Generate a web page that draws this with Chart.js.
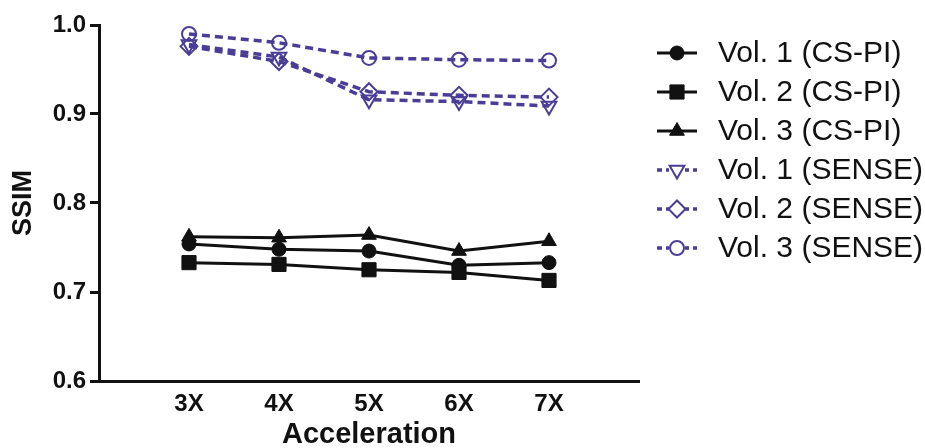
<!DOCTYPE html>
<html>
<head>
<meta charset="utf-8">
<script src="https://cdn.jsdelivr.net/npm/chart.js@4/dist/chart.umd.min.js"></script>
<style>
  html, body { margin: 0; padding: 0; background: #fff; }
  #wrap { width: 925px; height: 448px; }
</style>
</head>
<body>
<div id="wrap"><canvas id="chart" width="925" height="448"></canvas></div>
<script>
const accel = [3, 4, 5, 6, 7];
const accelLabels = ["3X", "4X", "5X", "6X", "7X"];
const yTicks = [0.6, 0.7, 0.8, 0.9, 1.0];

const vol1CsPi = [0.754, 0.748, 0.746, 0.730, 0.733];
const vol2CsPi = [0.733, 0.731, 0.725, 0.722, 0.713];
const vol3CsPi = [0.762, 0.761, 0.764, 0.746, 0.757];
const vol1Sense = [0.978, 0.964, 0.916, 0.914, 0.909];
const vol2Sense = [0.976, 0.959, 0.925, 0.921, 0.919];
const vol3Sense = [0.990, 0.980, 0.963, 0.961, 0.960];

const INK = "#111111";
const PURPLE = "#4a3d96";
const FONT = "'Liberation Sans', Arial, sans-serif";

function points(values) {
  return values.map((v, i) => ({ x: accel[i], y: v }));
}

function solid(label, values, style, radius) {
  return {
    label,
    data: points(values),
    borderColor: INK,
    borderWidth: 3,
    pointStyle: style,
    pointRadius: radius,
    pointBackgroundColor: INK,
    pointBorderColor: INK,
    pointBorderWidth: 1,
    pointRotation: 0,
    tension: 0
  };
}

function dashed(label, values, style, radius, rotation) {
  return {
    label,
    data: points(values),
    borderColor: PURPLE,
    borderWidth: 3.5,
    borderDash: [8, 5],
    pointStyle: style,
    pointRadius: radius,
    pointBackgroundColor: "rgba(0,0,0,0)",
    pointBorderColor: PURPLE,
    pointBorderWidth: 2,
    pointRotation: rotation,
    tension: 0
  };
}

// legend drawn by hand: line segment + marker, like the original figure
const sideLegend = {
  id: "sideLegend",
  afterDraw(chart) {
    const ctx = chart.ctx;
    const x0 = 657, x1 = 697, xm = 677, xt = 718;
    chart.data.datasets.forEach((ds, i) => {
      const y = 53 + i * 39;
      ctx.save();
      ctx.strokeStyle = ds.borderColor;
      ctx.lineWidth = ds.borderWidth;
      ctx.setLineDash(ds.borderDash ? [5, 4] : []);
      ctx.beginPath();
      ctx.moveTo(x0, y);
      ctx.lineTo(x1, y);
      ctx.stroke();
      ctx.setLineDash([]);
      if (ds.borderDash) {
        ctx.fillStyle = "#fff";
        ctx.fillRect(xm - 8, y - 8, 16, 16);
      }
      ctx.fillStyle = ds.pointBackgroundColor;
      ctx.strokeStyle = ds.pointBorderColor;
      ctx.lineWidth = ds.pointBorderWidth;
      Chart.helpers.drawPoint(ctx, {
        pointStyle: ds.pointStyle,
        rotation: ds.pointRotation,
        radius: ds.pointRadius,
        borderWidth: ds.pointBorderWidth
      }, xm, y);
      ctx.fillStyle = INK;
      ctx.font = "30px " + FONT;
      ctx.textAlign = "left";
      ctx.textBaseline = "middle";
      ctx.fillText(ds.label, xt, y + 1);
      ctx.restore();
    });
  }
};

new Chart(document.getElementById("chart"), {
  type: "line",
  data: {
    datasets: [
      solid("Vol. 1 (CS-PI)", vol1CsPi, "circle", 7),
      solid("Vol. 2 (CS-PI)", vol2CsPi, "rect", 10),
      solid("Vol. 3 (CS-PI)", vol3CsPi, "triangle", 8.5),
      dashed("Vol. 1 (SENSE)", vol1Sense, "triangle", 8.5, 180),
      dashed("Vol. 2 (SENSE)", vol2Sense, "rectRot", 8.5, 0),
      dashed("Vol. 3 (SENSE)", vol3Sense, "circle", 7, 0)
    ]
  },
  options: {
    responsive: false,
    animation: false,
    layout: { padding: { top: 25, right: 286, bottom: 0, left: 0 } },
    plugins: {
      legend: { display: false },
      tooltip: { enabled: false }
    },
    scales: {
      x: {
        type: "linear",
        min: 2,
        max: 8,
        afterBuildTicks(scale) {
          scale.ticks = accel.map((v) => ({ value: v }));
        },
        afterFit(scale) { scale.height = 67; },
        grid: { display: false, drawTicks: false },
        border: { display: true, color: INK, width: 3 },
        ticks: {
          padding: 9,
          color: INK,
          font: { family: FONT, size: 24, weight: "bold" },
          callback: (v) => accelLabels[accel.indexOf(v)] ?? ""
        },
        title: {
          display: true,
          text: "Acceleration",
          color: INK,
          padding: { top: 0, bottom: 0 },
          font: { family: FONT, size: 29, weight: "bold", lineHeight: 0.9 }
        }
      },
      y: {
        min: 0.6,
        max: 1.0,
        afterBuildTicks(scale) {
          scale.ticks = yTicks.map((v) => ({ value: v }));
        },
        afterFit(scale) { scale.width = 99; },
        grid: {
          display: true,
          drawOnChartArea: false,
          drawTicks: true,
          tickLength: 9,
          color: INK,
          lineWidth: 3
        },
        border: { display: true, color: INK, width: 3 },
        ticks: {
          padding: 4,
          color: INK,
          font: { family: FONT, size: 24, weight: "bold" },
          callback: (v) => Number(v).toFixed(1)
        },
        title: {
          display: true,
          text: "SSIM",
          color: INK,
          padding: { top: 7, bottom: 0 },
          font: { family: FONT, size: 27, weight: "bold" }
        }
      }
    }
  },
  plugins: [sideLegend]
});
</script>
</body>
</html>
